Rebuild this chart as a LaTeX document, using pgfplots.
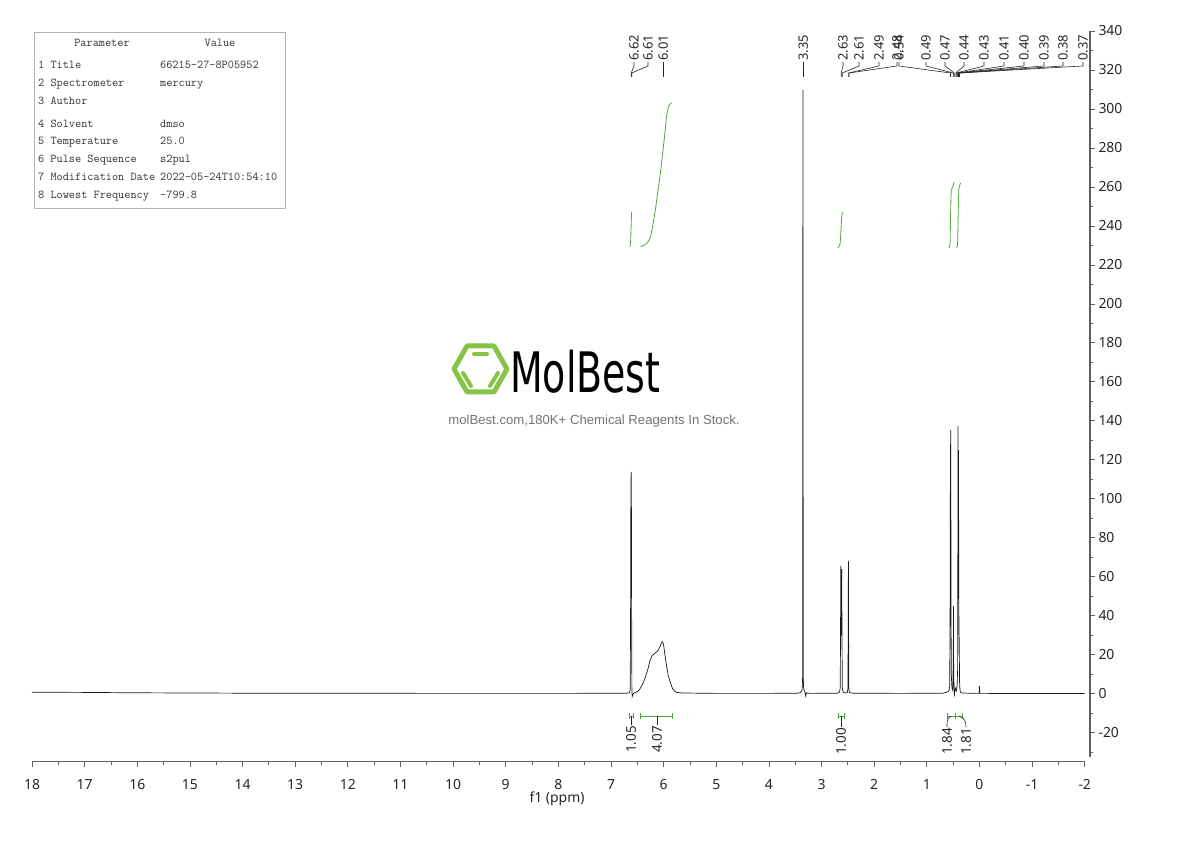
\documentclass[border=0pt]{standalone}
\usepackage{fontspec}
\setmainfont{Noto Sans}
\newfontfamily\tagfont{Liberation Sans}
\newfontfamily\logofont{DejaVu Sans}
\usepackage{pgfplots}
\usepackage{pgfplotstable}
\pgfplotsset{compat=1.18}
\definecolor{intg}{RGB}{80,165,60}
\definecolor{logog}{RGB}{135,195,70}
\definecolor{axgray}{RGB}{95,95,95}

\pgfplotstableread{
ppm I
18.00 0.8
17.00 0.7
16.00 0.5
15.00 0.4
14.00 0.3
12.00 0.25
10.00 0.2
8.00 0.2
7.00 0.25
6.70 0.3
6.65 0.5
6.635 2
6.625 60
6.622 112
6.618 100
6.614 113.8
6.608 40
6.603 3
6.598 -1.5
6.59 -0.8
6.57 0.3
6.52 0.8
6.48 1.5
6.45 2.5
6.40 5
6.36 7.5
6.33 10
6.30 12.5
6.26 17
6.22 19.5
6.18 20.5
6.13 21.5
6.10 22.5
6.07 24.1
6.05 25.5
6.03 26.7
6.01 26
5.996 24.1
5.97 19
5.94 13.5
5.91 9
5.88 6.5
5.85 4
5.83 2.6
5.80 1.5
5.75 0.7
5.65 0.4
5.00 0.2
4.00 0.2
3.45 0.3
3.40 0.6
3.37 2
3.36 8
3.357 150
3.354 309.7
3.351 150
3.347 8
3.34 2.5
3.32 1.2
3.30 -1.2
3.29 0.5
3.27 0.3
3.20 0.2
2.70 0.3
2.66 0.8
2.645 3
2.638 40
2.634 65.6
2.628 30
2.624 35
2.618 64
2.612 35
2.606 3
2.59 0.8
2.55 0.4
2.51 0.6
2.498 3
2.493 40
2.490 68.2
2.487 40
2.482 3
2.47 0.6
2.40 0.3
1.50 0.2
0.70 0.3
0.62 0.8
0.58 1.5
0.565 4
0.555 60
0.552 128
0.549 70
0.546 135.4
0.543 95
0.540 42
0.535 10
0.525 4
0.515 2
0.505 3
0.497 20
0.494 45
0.490 12
0.482 1
0.475 -0.5
0.468 1
0.460 3
0.452 2.5
0.440 1.5
0.425 4
0.415 12
0.410 80
0.406 137.4
0.402 90
0.398 125
0.394 70
0.390 34
0.385 28
0.378 6
0.37 2
0.36 0.8
0.33 0.4
0.20 0.3
0.05 0.2
0.006 0.3
0.002 3.7
-0.002 3.7
-0.006 0.2
-0.10 0.2
-1.00 0.1
-2.00 0.1
}\spec

\pgfplotstableread{
ppm I
6.642 229.2
6.628 231.5
6.618 240
6.610 246
6.604 247.2
}\intA

\pgfplotstableread{
ppm I
6.439 229.4
6.357 230.3
6.294 232.0
6.249 234.5
6.211 239.6
6.167 246.5
6.105 258.5
6.040 272.2
5.977 287.5
5.945 296.1
5.907 301.2
5.850 303.2
}\intB

\pgfplotstableread{
ppm I
2.690 228.7
2.650 230.5
2.633 237
2.616 245
2.600 247.2
}\intC

\pgfplotstableread{
ppm I
0.585 228.7
0.560 230.5
0.552 240
0.545 250
0.535 258
0.500 260.5
0.490 262
0.485 262.3
}\intD

\pgfplotstableread{
ppm I
0.432 228.7
0.415 231.5
0.405 245
0.395 256
0.385 260
0.355 262
}\intE

\begin{document}
\begin{tikzpicture}
\useasboundingbox (-32bp,-79bp) rectangle (1158bp,762bp);
\begin{axis}[
  at={(0,0)}, anchor=south west,
  scale only axis, width=1058bp, height=731bp,
  xmin=-18, xmax=2.1, ymin=-35, ymax=340,
  axis x line*=bottom, axis y line*=right,
  axis line style={draw=none},
  xtick={-18,-17,...,2},
  xticklabels={18,17,16,15,14,13,12,11,10,9,8,7,6,5,4,3,2,1,0,-1,-2},
  minor xtick={-17.5,-16.5,...,1.5},
  ytick={-20,0,20,...,340},
  yticklabels={-20,0,20,40,60,80,100,120,140,160,180,200,220,240,260,280,300,320,340},
  minor ytick={-30,-10,...,330},
  tick align=outside,
  major tick length=5bp, minor tick length=3bp,
  tick style={axgray, line width=0.8bp},
  tick label style={font=\fontsize{14}{15}\selectfont, text=black!85},
  xticklabel style={yshift=-9bp},
  yticklabel style={xshift=0bp},
  clip=false,
]
\addplot[black!90, line width=0.7bp] table[x expr=-\thisrow{ppm}, y=I] {\spec};
\addplot[intg, line width=0.8bp, smooth] table[x expr=-\thisrow{ppm}, y=I] {\intA};
\addplot[intg, line width=0.8bp, smooth] table[x expr=-\thisrow{ppm}, y=I] {\intB};
\addplot[intg, line width=0.8bp, smooth] table[x expr=-\thisrow{ppm}, y=I] {\intC};
\addplot[intg, line width=0.8bp, smooth] table[x expr=-\thisrow{ppm}, y=I] {\intD};
\addplot[intg, line width=0.8bp, smooth] table[x expr=-\thisrow{ppm}, y=I] {\intE};
\end{axis}

\begin{scope}[x=1bp, y=-1bp, shift={(-32bp,762bp)}]
% axis lines
\draw[axgray, line width=1bp] (32,762) -- (1085,762);
\draw[axgray, line width=1.3bp] (1090,31) -- (1090,757);
\node[font=\fontsize{14}{15}\selectfont, text=black!85] at (557,799) {f1 (ppm)};

% parameter table
\draw[black!30, line width=0.8bp] (34,32) rectangle (285,208);
\begin{scope}[every node/.style={font=\ttfamily\fontsize{12}{12}\selectfont, text=black!80, inner sep=0pt}]
\node[anchor=base] at (102,46.7) {Parameter};
\node[anchor=base] at (220,46.7) {Value};
\foreach \y/\a/\b in {68.4/1 Title/66215-27-8P05952, 86.7/2 Spectrometer/mercury, 104.4/3 Author/{}, 127.4/4 Solvent/dmso, 145/5 Temperature/25.0, 162.7/6 Pulse Sequence/s2pul, 180.4/7 Modification Date/2022-05-24T10:54:10, 198.4/8 Lowest Frequency/-799.8}{
  \node[anchor=base west] at (38,\y) {\a};
  \node[anchor=base west] at (160,\y) {\b};
}
\end{scope}

% peak labels
\foreach \t/\lx/\px in {6.62/634/631.2, 6.61/648/631.7, 6.01/663.3/663.3, 3.35/803.3/803.3, 2.63/843/841.2, 2.61/859/842.3, 2.49/879/848.6, 2.48/897/849.1, 0.54/899/950.5, 0.49/926/953.2, 0.47/945/954.2, 0.44/964/955.8, 0.43/984/956.3, 0.41/1004/957.4, 0.40/1024/957.9, 0.39/1044/958.5, 0.38/1063/959.0, 0.37/1083/959.5}{
  \node[rotate=90, anchor=west, inner sep=0pt, font=\fontsize{13}{14}\selectfont, text=black!85] at (\lx,61) {\t};
  \draw[black!85, line width=0.6bp] (\lx,62) -- (\lx,66) -- (\px,73) -- (\px,77);
}

% integral brackets and labels
\begin{scope}[intg, line width=0.8bp]
\foreach \xa/\xb in {629/633, 640/672, 838/844, 947.5/955, 955/962.5}{
  \draw (\xa,713) -- (\xa,719);
  \draw (\xa,716) -- (\xb,716);
  \draw (\xb,713) -- (\xb,719);
}
\end{scope}
\begin{scope}[black!85, line width=0.6bp]
\draw (631,716) -- (631,725);
\draw (657,716) -- (657,725);
\draw (841,716) -- (841,727);
\draw (951,716) .. controls (947,718) and (947,722) .. (947,727);
\draw (959,716) .. controls (965,718) and (966,722) .. (966,727);
\end{scope}
\foreach \t/\x/\y in {1.05/631/725, 4.07/657/725, 1.00/841/727, 1.84/947/727, 1.81/966/727}{
  \node[rotate=90, anchor=east, inner sep=0pt, font=\fontsize{13.5}{14}\selectfont, text=black!85] at (\x,\y+1) {\t};
}

% watermark
\draw[logog, line width=5bp, line join=round] (454,369) -- (467,346) -- (494,346) -- (507,369) -- (494,392) -- (467,392) -- cycle;
\draw[logog, line width=4bp, line cap=round] (474,354) -- (487,354);
\draw[logog, line width=4bp, line cap=round] (463,373) -- (471,386);
\draw[logog, line width=4bp, line cap=round] (498,373) -- (490,386);
\node[anchor=base west, inner sep=0pt, xscale=0.68, font=\logofont\fontsize{56}{56}\selectfont] at (510,393) {MolBest};
\node[inner sep=0pt, font=\tagfont\fontsize{13.2}{14}\selectfont, text=black!55] at (594,421) {molBest.com,180K+ Chemical Reagents In Stock.};
\end{scope}
\end{tikzpicture}
\end{document}
